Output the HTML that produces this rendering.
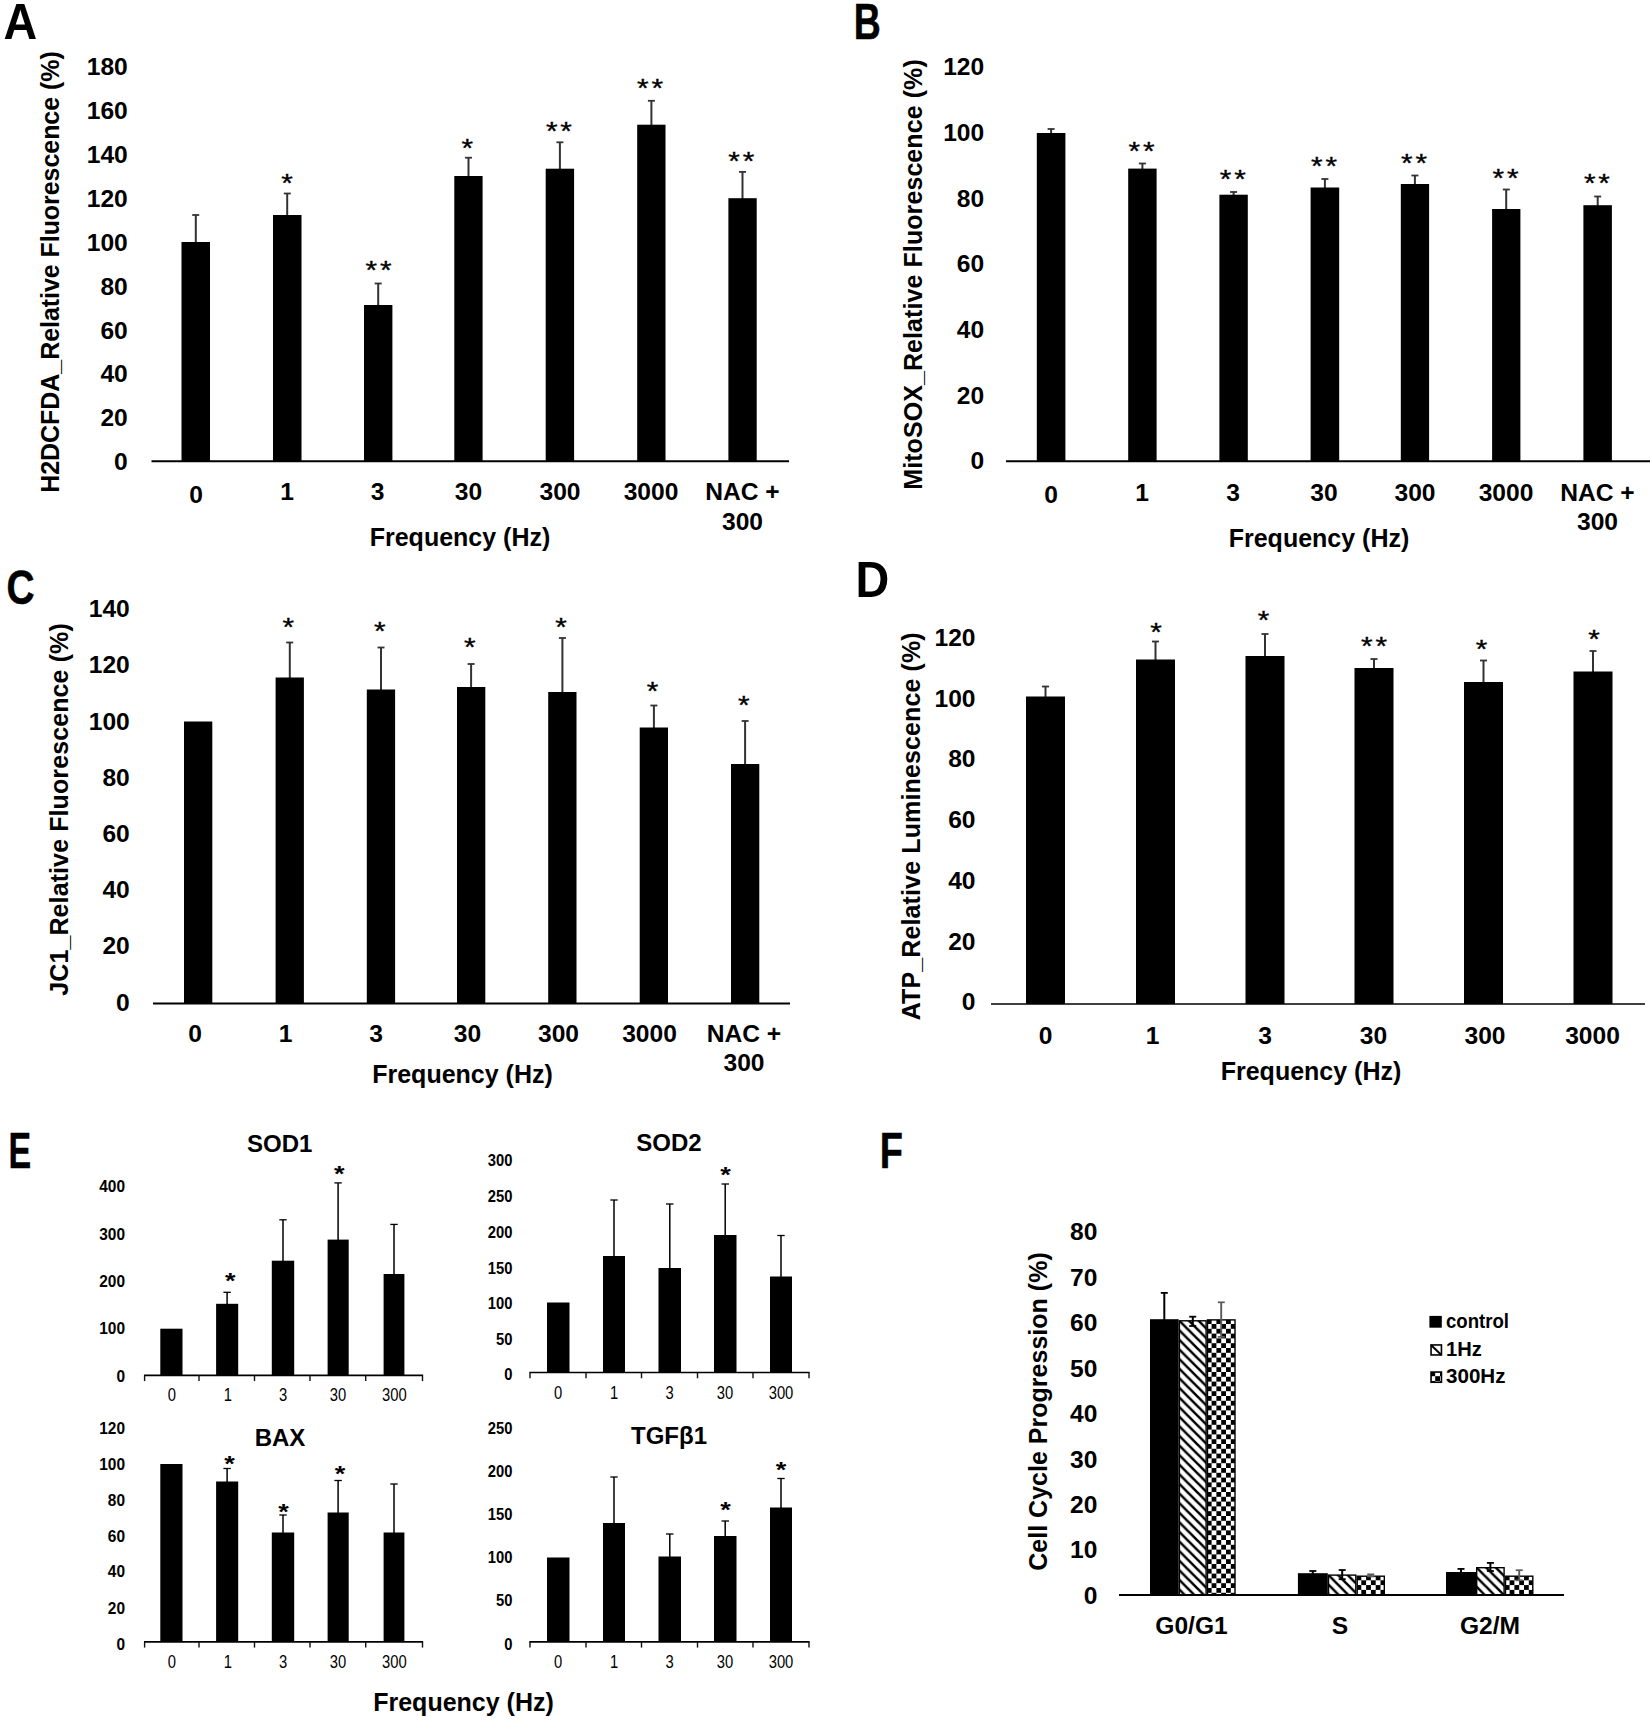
<!DOCTYPE html>
<html><head><meta charset="utf-8"><title>Figure</title>
<style>
html,body{margin:0;padding:0;background:#fff;}
svg{display:block;font-family:"Liberation Sans", sans-serif;fill:#000;}
</style></head><body>
<svg width="1650" height="1720" viewBox="0 0 1650 1720">
<defs>
<pattern id="hatch" width="9.6" height="9.6" patternUnits="userSpaceOnUse">
<rect width="9.6" height="9.6" fill="#fff"/><path d="M-2,-2 L12,12 M-2,-11.6 L12,2.4 M-2,7.6 L12,21.6" stroke="#000" stroke-width="2.5"/></pattern>
<pattern id="check" width="9.6" height="9.6" patternUnits="userSpaceOnUse">
<rect width="9.6" height="9.6" fill="#fff"/><rect width="4.8" height="4.8" fill="#000"/><rect x="4.8" y="4.8" width="4.8" height="4.8" fill="#000"/></pattern>
<pattern id="hatchs" width="8" height="8" patternUnits="userSpaceOnUse" patternTransform="translate(1430 1345)">
<rect width="8" height="8" fill="#fff"/><path d="M-2,-2 L10,10 M-2,-10 L10,2 M-2,6 L10,18" stroke="#000" stroke-width="2.3"/></pattern>
<pattern id="checks" width="10" height="10" patternUnits="userSpaceOnUse" patternTransform="translate(1430.5 1372)">
<rect width="10" height="10" fill="#fff"/><rect x="5" width="5" height="5" fill="#000"/><rect y="5" width="5" height="5" fill="#000"/></pattern>
</defs>
<rect width="1650" height="1720" fill="#fff"/>
<text transform="translate(3.43 39.0) scale(0.934 1)" font-size="50.0" font-weight="bold">A</text>
<line x1="151.5" y1="461.3" x2="789.0" y2="461.3" stroke="#000" stroke-width="2"/>
<text x="127.8" y="74.5" font-size="24.6" font-weight="bold" text-anchor="end">180</text>
<text x="127.8" y="118.8" font-size="24.6" font-weight="bold" text-anchor="end">160</text>
<text x="127.8" y="162.8" font-size="24.6" font-weight="bold" text-anchor="end">140</text>
<text x="127.8" y="206.7" font-size="24.6" font-weight="bold" text-anchor="end">120</text>
<text x="127.8" y="250.5" font-size="24.6" font-weight="bold" text-anchor="end">100</text>
<text x="127.8" y="294.5" font-size="24.6" font-weight="bold" text-anchor="end">80</text>
<text x="127.8" y="338.5" font-size="24.6" font-weight="bold" text-anchor="end">60</text>
<text x="127.8" y="382.0" font-size="24.6" font-weight="bold" text-anchor="end">40</text>
<text x="127.8" y="426.0" font-size="24.6" font-weight="bold" text-anchor="end">20</text>
<text x="127.8" y="469.5" font-size="24.6" font-weight="bold" text-anchor="end">0</text>
<line x1="195.8" y1="215.0" x2="195.8" y2="243.0" stroke="#333" stroke-width="2"/>
<line x1="192.2" y1="215.0" x2="199.2" y2="215.0" stroke="#333" stroke-width="1.8"/>
<rect x="181.5" y="242.0" width="28.5" height="219.0" fill="#000"/>
<line x1="287.2" y1="193.5" x2="287.2" y2="216.0" stroke="#333" stroke-width="2"/>
<line x1="283.8" y1="193.5" x2="290.8" y2="193.5" stroke="#333" stroke-width="1.8"/>
<rect x="273.0" y="215.0" width="28.5" height="246.0" fill="#000"/>
<text transform="translate(287.1 179.4) scale(1.06 0.9)" y="14.4" font-size="28" font-weight="normal" text-anchor="middle" stroke="#000" stroke-width="0.4">*</text>
<line x1="378.2" y1="283.5" x2="378.2" y2="306.0" stroke="#333" stroke-width="2"/>
<line x1="374.7" y1="283.5" x2="381.7" y2="283.5" stroke="#333" stroke-width="1.8"/>
<rect x="364.0" y="305.0" width="28.4" height="156.0" fill="#000"/>
<text transform="translate(371.3 266.5) scale(1.06 0.9)" y="14.4" font-size="28" font-weight="normal" text-anchor="middle" stroke="#000" stroke-width="0.4">*</text>
<text transform="translate(385.7 266.5) scale(1.06 0.9)" y="14.4" font-size="28" font-weight="normal" text-anchor="middle" stroke="#000" stroke-width="0.4">*</text>
<line x1="468.5" y1="157.7" x2="468.5" y2="177.0" stroke="#333" stroke-width="2"/>
<line x1="465.0" y1="157.7" x2="472.0" y2="157.7" stroke="#333" stroke-width="1.8"/>
<rect x="454.3" y="176.0" width="28.3" height="285.0" fill="#000"/>
<text transform="translate(467.2 144.1) scale(1.06 0.9)" y="14.4" font-size="28" font-weight="normal" text-anchor="middle" stroke="#000" stroke-width="0.4">*</text>
<line x1="559.9" y1="142.3" x2="559.9" y2="169.7" stroke="#333" stroke-width="2"/>
<line x1="556.4" y1="142.3" x2="563.4" y2="142.3" stroke="#333" stroke-width="1.8"/>
<rect x="545.7" y="168.7" width="28.4" height="292.3" fill="#000"/>
<text transform="translate(551.7 127.0) scale(1.06 0.9)" y="14.4" font-size="28" font-weight="normal" text-anchor="middle" stroke="#000" stroke-width="0.4">*</text>
<text transform="translate(566.1 127.0) scale(1.06 0.9)" y="14.4" font-size="28" font-weight="normal" text-anchor="middle" stroke="#000" stroke-width="0.4">*</text>
<line x1="651.4" y1="100.8" x2="651.4" y2="125.7" stroke="#333" stroke-width="2"/>
<line x1="647.9" y1="100.8" x2="654.9" y2="100.8" stroke="#333" stroke-width="1.8"/>
<rect x="637.2" y="124.7" width="28.3" height="336.3" fill="#000"/>
<text transform="translate(642.9 83.9) scale(1.06 0.9)" y="14.4" font-size="28" font-weight="normal" text-anchor="middle" stroke="#000" stroke-width="0.4">*</text>
<text transform="translate(657.3 83.9) scale(1.06 0.9)" y="14.4" font-size="28" font-weight="normal" text-anchor="middle" stroke="#000" stroke-width="0.4">*</text>
<line x1="742.5" y1="171.9" x2="742.5" y2="199.2" stroke="#333" stroke-width="2"/>
<line x1="739.0" y1="171.9" x2="746.0" y2="171.9" stroke="#333" stroke-width="1.8"/>
<rect x="728.4" y="198.2" width="28.3" height="262.8" fill="#000"/>
<text transform="translate(734.1 156.8) scale(1.06 0.9)" y="14.4" font-size="28" font-weight="normal" text-anchor="middle" stroke="#000" stroke-width="0.4">*</text>
<text transform="translate(748.5 156.8) scale(1.06 0.9)" y="14.4" font-size="28" font-weight="normal" text-anchor="middle" stroke="#000" stroke-width="0.4">*</text>
<text x="196.0" y="502.6" font-size="24.6" font-weight="bold" text-anchor="middle">0</text>
<text x="287.0" y="500.1" font-size="24.6" font-weight="bold" text-anchor="middle">1</text>
<text x="377.5" y="500.1" font-size="24.6" font-weight="bold" text-anchor="middle">3</text>
<text x="468.5" y="500.1" font-size="24.6" font-weight="bold" text-anchor="middle">30</text>
<text x="560.0" y="500.1" font-size="24.6" font-weight="bold" text-anchor="middle">300</text>
<text x="651.0" y="500.1" font-size="24.6" font-weight="bold" text-anchor="middle">3000</text>
<text x="742.5" y="500.1" font-size="24.6" font-weight="bold" text-anchor="middle">NAC +</text>
<text x="742.5" y="530.1" font-size="24.6" font-weight="bold" text-anchor="middle">300</text>
<text x="460.0" y="545.8" font-size="25" font-weight="bold" text-anchor="middle">Frequency (Hz)</text>
<text transform="translate(59.4 272.0) rotate(-90)" font-size="25" font-weight="bold" text-anchor="middle" textLength="441.5" lengthAdjust="spacing">H2DCFDA_Relative Fluorescence (%)</text>
<text transform="translate(853.69 39.0) scale(0.749 1)" font-size="50.0" font-weight="bold" stroke="#000" stroke-width="0.5">B</text>
<line x1="1006.0" y1="461.3" x2="1650.0" y2="461.3" stroke="#000" stroke-width="2"/>
<text x="984.2" y="74.7" font-size="24.6" font-weight="bold" text-anchor="end">120</text>
<text x="984.2" y="141.2" font-size="24.6" font-weight="bold" text-anchor="end">100</text>
<text x="984.2" y="206.7" font-size="24.6" font-weight="bold" text-anchor="end">80</text>
<text x="984.2" y="272.2" font-size="24.6" font-weight="bold" text-anchor="end">60</text>
<text x="984.2" y="338.2" font-size="24.6" font-weight="bold" text-anchor="end">40</text>
<text x="984.2" y="404.2" font-size="24.6" font-weight="bold" text-anchor="end">20</text>
<text x="984.2" y="469.2" font-size="24.6" font-weight="bold" text-anchor="end">0</text>
<line x1="1051.1" y1="129.0" x2="1051.1" y2="134.0" stroke="#333" stroke-width="2"/>
<line x1="1047.6" y1="129.0" x2="1054.6" y2="129.0" stroke="#333" stroke-width="1.8"/>
<rect x="1036.8" y="133.0" width="28.6" height="328.0" fill="#000"/>
<line x1="1142.4" y1="163.5" x2="1142.4" y2="169.6" stroke="#333" stroke-width="2"/>
<line x1="1138.9" y1="163.5" x2="1145.9" y2="163.5" stroke="#333" stroke-width="1.8"/>
<rect x="1128.2" y="168.6" width="28.4" height="292.4" fill="#000"/>
<text transform="translate(1134.4 147.1) scale(1.06 0.9)" y="14.4" font-size="28" font-weight="normal" text-anchor="middle" stroke="#000" stroke-width="0.4">*</text>
<text transform="translate(1148.8 147.1) scale(1.06 0.9)" y="14.4" font-size="28" font-weight="normal" text-anchor="middle" stroke="#000" stroke-width="0.4">*</text>
<line x1="1233.6" y1="192.0" x2="1233.6" y2="195.7" stroke="#333" stroke-width="2"/>
<line x1="1230.1" y1="192.0" x2="1237.1" y2="192.0" stroke="#333" stroke-width="1.8"/>
<rect x="1219.4" y="194.7" width="28.4" height="266.3" fill="#000"/>
<text transform="translate(1225.6 174.6) scale(1.06 0.9)" y="14.4" font-size="28" font-weight="normal" text-anchor="middle" stroke="#000" stroke-width="0.4">*</text>
<text transform="translate(1240.0 174.6) scale(1.06 0.9)" y="14.4" font-size="28" font-weight="normal" text-anchor="middle" stroke="#000" stroke-width="0.4">*</text>
<line x1="1324.9" y1="179.0" x2="1324.9" y2="188.5" stroke="#333" stroke-width="2"/>
<line x1="1321.4" y1="179.0" x2="1328.4" y2="179.0" stroke="#333" stroke-width="1.8"/>
<rect x="1310.6" y="187.5" width="28.6" height="273.5" fill="#000"/>
<text transform="translate(1316.9 161.6) scale(1.06 0.9)" y="14.4" font-size="28" font-weight="normal" text-anchor="middle" stroke="#000" stroke-width="0.4">*</text>
<text transform="translate(1331.3 161.6) scale(1.06 0.9)" y="14.4" font-size="28" font-weight="normal" text-anchor="middle" stroke="#000" stroke-width="0.4">*</text>
<line x1="1414.9" y1="175.5" x2="1414.9" y2="185.0" stroke="#333" stroke-width="2"/>
<line x1="1411.4" y1="175.5" x2="1418.4" y2="175.5" stroke="#333" stroke-width="1.8"/>
<rect x="1400.8" y="184.0" width="28.3" height="277.0" fill="#000"/>
<text transform="translate(1406.9 159.1) scale(1.06 0.9)" y="14.4" font-size="28" font-weight="normal" text-anchor="middle" stroke="#000" stroke-width="0.4">*</text>
<text transform="translate(1421.3 159.1) scale(1.06 0.9)" y="14.4" font-size="28" font-weight="normal" text-anchor="middle" stroke="#000" stroke-width="0.4">*</text>
<line x1="1506.2" y1="189.5" x2="1506.2" y2="210.0" stroke="#333" stroke-width="2"/>
<line x1="1502.8" y1="189.5" x2="1509.8" y2="189.5" stroke="#333" stroke-width="1.8"/>
<rect x="1492.1" y="209.0" width="28.3" height="252.0" fill="#000"/>
<text transform="translate(1498.2 173.6) scale(1.06 0.9)" y="14.4" font-size="28" font-weight="normal" text-anchor="middle" stroke="#000" stroke-width="0.4">*</text>
<text transform="translate(1512.7 173.6) scale(1.06 0.9)" y="14.4" font-size="28" font-weight="normal" text-anchor="middle" stroke="#000" stroke-width="0.4">*</text>
<line x1="1597.7" y1="196.5" x2="1597.7" y2="206.2" stroke="#333" stroke-width="2"/>
<line x1="1594.2" y1="196.5" x2="1601.2" y2="196.5" stroke="#333" stroke-width="1.8"/>
<rect x="1583.4" y="205.2" width="28.5" height="255.8" fill="#000"/>
<text transform="translate(1589.7 178.6) scale(1.06 0.9)" y="14.4" font-size="28" font-weight="normal" text-anchor="middle" stroke="#000" stroke-width="0.4">*</text>
<text transform="translate(1604.1 178.6) scale(1.06 0.9)" y="14.4" font-size="28" font-weight="normal" text-anchor="middle" stroke="#000" stroke-width="0.4">*</text>
<text x="1051.0" y="502.6" font-size="24.6" font-weight="bold" text-anchor="middle">0</text>
<text x="1142.0" y="501.1" font-size="24.6" font-weight="bold" text-anchor="middle">1</text>
<text x="1233.0" y="501.1" font-size="24.6" font-weight="bold" text-anchor="middle">3</text>
<text x="1324.0" y="501.1" font-size="24.6" font-weight="bold" text-anchor="middle">30</text>
<text x="1415.0" y="501.1" font-size="24.6" font-weight="bold" text-anchor="middle">300</text>
<text x="1506.0" y="501.1" font-size="24.6" font-weight="bold" text-anchor="middle">3000</text>
<text x="1597.5" y="501.1" font-size="24.6" font-weight="bold" text-anchor="middle">NAC +</text>
<text x="1597.5" y="530.1" font-size="24.6" font-weight="bold" text-anchor="middle">300</text>
<text x="1319.0" y="546.6" font-size="25" font-weight="bold" text-anchor="middle">Frequency (Hz)</text>
<text transform="translate(922.4 274.5) rotate(-90)" font-size="25" font-weight="bold" text-anchor="middle" textLength="430.5" lengthAdjust="spacing">MitoSOX_Relative Fluorescence (%)</text>
<text transform="translate(6.51 604.4) scale(0.795 1)" font-size="48.9" font-weight="bold" stroke="#000" stroke-width="0.5">C</text>
<line x1="153.0" y1="1003.5" x2="790.0" y2="1003.5" stroke="#000" stroke-width="2"/>
<text x="129.8" y="617.3" font-size="24.6" font-weight="bold" text-anchor="end">140</text>
<text x="129.8" y="673.3" font-size="24.6" font-weight="bold" text-anchor="end">120</text>
<text x="129.8" y="729.8" font-size="24.6" font-weight="bold" text-anchor="end">100</text>
<text x="129.8" y="785.8" font-size="24.6" font-weight="bold" text-anchor="end">80</text>
<text x="129.8" y="841.8" font-size="24.6" font-weight="bold" text-anchor="end">60</text>
<text x="129.8" y="898.3" font-size="24.6" font-weight="bold" text-anchor="end">40</text>
<text x="129.8" y="954.3" font-size="24.6" font-weight="bold" text-anchor="end">20</text>
<text x="129.8" y="1010.8" font-size="24.6" font-weight="bold" text-anchor="end">0</text>
<rect x="184.0" y="721.5" width="28.3" height="282.0" fill="#000"/>
<line x1="289.8" y1="642.5" x2="289.8" y2="678.5" stroke="#333" stroke-width="2"/>
<line x1="286.2" y1="642.5" x2="293.2" y2="642.5" stroke="#333" stroke-width="1.8"/>
<rect x="275.6" y="677.5" width="28.3" height="326.0" fill="#000"/>
<text transform="translate(288.4 623.2) scale(1.06 0.9)" y="14.4" font-size="28" font-weight="normal" text-anchor="middle" stroke="#000" stroke-width="0.4">*</text>
<line x1="381.0" y1="647.5" x2="381.0" y2="690.5" stroke="#333" stroke-width="2"/>
<line x1="377.5" y1="647.5" x2="384.5" y2="647.5" stroke="#333" stroke-width="1.8"/>
<rect x="366.8" y="689.5" width="28.3" height="314.0" fill="#000"/>
<text transform="translate(379.7 626.7) scale(1.06 0.9)" y="14.4" font-size="28" font-weight="normal" text-anchor="middle" stroke="#000" stroke-width="0.4">*</text>
<line x1="471.1" y1="664.0" x2="471.1" y2="688.0" stroke="#333" stroke-width="2"/>
<line x1="467.6" y1="664.0" x2="474.6" y2="664.0" stroke="#333" stroke-width="1.8"/>
<rect x="457.0" y="687.0" width="28.3" height="316.5" fill="#000"/>
<text transform="translate(469.8 643.2) scale(1.06 0.9)" y="14.4" font-size="28" font-weight="normal" text-anchor="middle" stroke="#000" stroke-width="0.4">*</text>
<line x1="562.4" y1="638.0" x2="562.4" y2="693.0" stroke="#333" stroke-width="2"/>
<line x1="558.9" y1="638.0" x2="565.9" y2="638.0" stroke="#333" stroke-width="1.8"/>
<rect x="548.2" y="692.0" width="28.3" height="311.5" fill="#000"/>
<text transform="translate(561.1 622.7) scale(1.06 0.9)" y="14.4" font-size="28" font-weight="normal" text-anchor="middle" stroke="#000" stroke-width="0.4">*</text>
<line x1="653.9" y1="705.5" x2="653.9" y2="728.5" stroke="#333" stroke-width="2"/>
<line x1="650.4" y1="705.5" x2="657.4" y2="705.5" stroke="#333" stroke-width="1.8"/>
<rect x="639.7" y="727.5" width="28.3" height="276.0" fill="#000"/>
<text transform="translate(652.6 687.2) scale(1.06 0.9)" y="14.4" font-size="28" font-weight="normal" text-anchor="middle" stroke="#000" stroke-width="0.4">*</text>
<line x1="745.1" y1="721.0" x2="745.1" y2="765.0" stroke="#333" stroke-width="2"/>
<line x1="741.6" y1="721.0" x2="748.6" y2="721.0" stroke="#333" stroke-width="1.8"/>
<rect x="731.0" y="764.0" width="28.3" height="239.5" fill="#000"/>
<text transform="translate(743.9 701.2) scale(1.06 0.9)" y="14.4" font-size="28" font-weight="normal" text-anchor="middle" stroke="#000" stroke-width="0.4">*</text>
<text x="195.0" y="1041.6" font-size="24.6" font-weight="bold" text-anchor="middle">0</text>
<text x="285.5" y="1041.6" font-size="24.6" font-weight="bold" text-anchor="middle">1</text>
<text x="376.0" y="1041.6" font-size="24.6" font-weight="bold" text-anchor="middle">3</text>
<text x="467.5" y="1041.6" font-size="24.6" font-weight="bold" text-anchor="middle">30</text>
<text x="558.5" y="1041.6" font-size="24.6" font-weight="bold" text-anchor="middle">300</text>
<text x="649.5" y="1041.6" font-size="24.6" font-weight="bold" text-anchor="middle">3000</text>
<text x="744.0" y="1041.6" font-size="24.6" font-weight="bold" text-anchor="middle">NAC +</text>
<text x="744.0" y="1071.1" font-size="24.6" font-weight="bold" text-anchor="middle">300</text>
<text x="462.5" y="1082.8" font-size="25" font-weight="bold" text-anchor="middle">Frequency (Hz)</text>
<text transform="translate(68.3 809.5) rotate(-90)" font-size="25" font-weight="bold" text-anchor="middle" textLength="372.5" lengthAdjust="spacing">JC1_Relative Fluorescence (%)</text>
<text transform="translate(855.57 596.7) scale(0.927 1)" font-size="50.4" font-weight="bold">D</text>
<line x1="991.0" y1="1004.0" x2="1645.0" y2="1004.0" stroke="#000" stroke-width="1.3"/>
<text x="975.5" y="646.2" font-size="24.6" font-weight="bold" text-anchor="end">120</text>
<text x="975.5" y="706.7" font-size="24.6" font-weight="bold" text-anchor="end">100</text>
<text x="975.5" y="767.2" font-size="24.6" font-weight="bold" text-anchor="end">80</text>
<text x="975.5" y="828.2" font-size="24.6" font-weight="bold" text-anchor="end">60</text>
<text x="975.5" y="888.7" font-size="24.6" font-weight="bold" text-anchor="end">40</text>
<text x="975.5" y="949.7" font-size="24.6" font-weight="bold" text-anchor="end">20</text>
<text x="975.5" y="1010.2" font-size="24.6" font-weight="bold" text-anchor="end">0</text>
<line x1="1045.5" y1="686.5" x2="1045.5" y2="697.5" stroke="#333" stroke-width="2"/>
<line x1="1042.0" y1="686.5" x2="1049.0" y2="686.5" stroke="#333" stroke-width="1.8"/>
<rect x="1026.0" y="696.5" width="39.0" height="307.5" fill="#000"/>
<line x1="1155.5" y1="641.5" x2="1155.5" y2="660.5" stroke="#333" stroke-width="2"/>
<line x1="1152.0" y1="641.5" x2="1159.0" y2="641.5" stroke="#333" stroke-width="1.8"/>
<rect x="1136.0" y="659.5" width="39.0" height="344.5" fill="#000"/>
<text transform="translate(1156.0 628.0) scale(1.06 0.9)" y="14.4" font-size="28" font-weight="normal" text-anchor="middle" stroke="#000" stroke-width="0.4">*</text>
<line x1="1265.0" y1="634.0" x2="1265.0" y2="657.0" stroke="#333" stroke-width="2"/>
<line x1="1261.5" y1="634.0" x2="1268.5" y2="634.0" stroke="#333" stroke-width="1.8"/>
<rect x="1245.5" y="656.0" width="39.0" height="348.0" fill="#000"/>
<text transform="translate(1263.5 616.0) scale(1.06 0.9)" y="14.4" font-size="28" font-weight="normal" text-anchor="middle" stroke="#000" stroke-width="0.4">*</text>
<line x1="1374.0" y1="659.0" x2="1374.0" y2="669.0" stroke="#333" stroke-width="2"/>
<line x1="1370.5" y1="659.0" x2="1377.5" y2="659.0" stroke="#333" stroke-width="1.8"/>
<rect x="1354.5" y="668.0" width="39.0" height="336.0" fill="#000"/>
<text transform="translate(1366.8 642.5) scale(1.06 0.9)" y="14.4" font-size="28" font-weight="normal" text-anchor="middle" stroke="#000" stroke-width="0.4">*</text>
<text transform="translate(1381.2 642.5) scale(1.06 0.9)" y="14.4" font-size="28" font-weight="normal" text-anchor="middle" stroke="#000" stroke-width="0.4">*</text>
<line x1="1483.5" y1="660.5" x2="1483.5" y2="683.0" stroke="#333" stroke-width="2"/>
<line x1="1480.0" y1="660.5" x2="1487.0" y2="660.5" stroke="#333" stroke-width="1.8"/>
<rect x="1464.0" y="682.0" width="39.0" height="322.0" fill="#000"/>
<text transform="translate(1481.5 645.5) scale(1.06 0.9)" y="14.4" font-size="28" font-weight="normal" text-anchor="middle" stroke="#000" stroke-width="0.4">*</text>
<line x1="1593.0" y1="651.0" x2="1593.0" y2="672.5" stroke="#333" stroke-width="2"/>
<line x1="1589.5" y1="651.0" x2="1596.5" y2="651.0" stroke="#333" stroke-width="1.8"/>
<rect x="1573.5" y="671.5" width="39.0" height="332.5" fill="#000"/>
<text transform="translate(1594.0 635.5) scale(1.06 0.9)" y="14.4" font-size="28" font-weight="normal" text-anchor="middle" stroke="#000" stroke-width="0.4">*</text>
<text x="1045.5" y="1043.6" font-size="24.6" font-weight="bold" text-anchor="middle">0</text>
<text x="1152.5" y="1043.6" font-size="24.6" font-weight="bold" text-anchor="middle">1</text>
<text x="1265.0" y="1043.6" font-size="24.6" font-weight="bold" text-anchor="middle">3</text>
<text x="1373.5" y="1043.6" font-size="24.6" font-weight="bold" text-anchor="middle">30</text>
<text x="1485.0" y="1043.6" font-size="24.6" font-weight="bold" text-anchor="middle">300</text>
<text x="1592.5" y="1043.6" font-size="24.6" font-weight="bold" text-anchor="middle">3000</text>
<text x="1311.0" y="1079.6" font-size="25" font-weight="bold" text-anchor="middle">Frequency (Hz)</text>
<text transform="translate(919.8 826.3) rotate(-90)" font-size="25" font-weight="bold" text-anchor="middle" textLength="388" lengthAdjust="spacing">ATP_Relative Luminescence (%)</text>
<text transform="translate(8.53 1168.2) scale(0.677 1)" font-size="50.1" font-weight="bold" stroke="#000" stroke-width="0.5">E</text>
<text x="279.7" y="1152.3" font-size="24" font-weight="bold" text-anchor="middle">SOD1</text>
<line x1="144.0" y1="1375.3" x2="423.1" y2="1375.3" stroke="#000" stroke-width="1.7"/>
<line x1="144.6" y1="1375.3" x2="144.6" y2="1381.1" stroke="#111" stroke-width="1.4"/>
<line x1="199.0" y1="1375.3" x2="199.0" y2="1381.1" stroke="#111" stroke-width="1.4"/>
<line x1="254.5" y1="1375.3" x2="254.5" y2="1381.1" stroke="#111" stroke-width="1.4"/>
<line x1="310.0" y1="1375.3" x2="310.0" y2="1381.1" stroke="#111" stroke-width="1.4"/>
<line x1="365.7" y1="1375.3" x2="365.7" y2="1381.1" stroke="#111" stroke-width="1.4"/>
<line x1="422.5" y1="1375.3" x2="422.5" y2="1381.1" stroke="#111" stroke-width="1.4"/>
<text transform="translate(125.0 1192.1) scale(0.92 1)" font-size="16.8" font-weight="bold" text-anchor="end">400</text>
<text transform="translate(125.0 1239.7) scale(0.92 1)" font-size="16.8" font-weight="bold" text-anchor="end">300</text>
<text transform="translate(125.0 1287.0) scale(0.92 1)" font-size="16.8" font-weight="bold" text-anchor="end">200</text>
<text transform="translate(125.0 1334.4) scale(0.92 1)" font-size="16.8" font-weight="bold" text-anchor="end">100</text>
<text transform="translate(125.0 1381.5) scale(0.92 1)" font-size="16.8" font-weight="bold" text-anchor="end">0</text>
<rect x="160.3" y="1328.7" width="22.2" height="46.6" fill="#000"/>
<line x1="227.1" y1="1292.3" x2="227.1" y2="1304.8" stroke="#000" stroke-width="1.5"/>
<line x1="223.4" y1="1292.3" x2="230.8" y2="1292.3" stroke="#000" stroke-width="1.3"/>
<rect x="216.1" y="1303.8" width="22.1" height="71.5" fill="#000"/>
<text transform="translate(230.3 1276.9) scale(1.04 0.85)" y="13.1" font-size="26" font-weight="bold" text-anchor="middle">*</text>
<line x1="283.0" y1="1219.8" x2="283.0" y2="1261.7" stroke="#000" stroke-width="1.5"/>
<line x1="279.3" y1="1219.8" x2="286.7" y2="1219.8" stroke="#000" stroke-width="1.3"/>
<rect x="271.8" y="1260.7" width="22.4" height="114.6" fill="#000"/>
<line x1="338.1" y1="1182.9" x2="338.1" y2="1240.6" stroke="#000" stroke-width="1.5"/>
<line x1="334.4" y1="1182.9" x2="341.8" y2="1182.9" stroke="#000" stroke-width="1.3"/>
<rect x="327.6" y="1239.6" width="21.1" height="135.7" fill="#000"/>
<text transform="translate(339.3 1170.3) scale(1.04 0.85)" y="13.1" font-size="26" font-weight="bold" text-anchor="middle">*</text>
<line x1="394.0" y1="1224.4" x2="394.0" y2="1275.0" stroke="#000" stroke-width="1.5"/>
<line x1="390.3" y1="1224.4" x2="397.7" y2="1224.4" stroke="#000" stroke-width="1.3"/>
<rect x="383.6" y="1274.0" width="20.8" height="101.3" fill="#000"/>
<text transform="translate(171.8 1401.0) scale(0.845 1)" font-size="17.5" font-weight="normal" text-anchor="middle">0</text>
<text transform="translate(227.8 1401.0) scale(0.845 1)" font-size="17.5" font-weight="normal" text-anchor="middle">1</text>
<text transform="translate(283.0 1401.0) scale(0.845 1)" font-size="17.5" font-weight="normal" text-anchor="middle">3</text>
<text transform="translate(338.0 1401.0) scale(0.845 1)" font-size="17.5" font-weight="normal" text-anchor="middle">30</text>
<text transform="translate(394.3 1401.0) scale(0.845 1)" font-size="17.5" font-weight="normal" text-anchor="middle">300</text>
<text x="669.0" y="1151.3" font-size="24" font-weight="bold" text-anchor="middle">SOD2</text>
<line x1="529.4" y1="1372.5" x2="809.6" y2="1372.5" stroke="#000" stroke-width="1.7"/>
<line x1="530.0" y1="1372.5" x2="530.0" y2="1378.3" stroke="#111" stroke-width="1.4"/>
<line x1="586.0" y1="1372.5" x2="586.0" y2="1378.3" stroke="#111" stroke-width="1.4"/>
<line x1="641.5" y1="1372.5" x2="641.5" y2="1378.3" stroke="#111" stroke-width="1.4"/>
<line x1="697.5" y1="1372.5" x2="697.5" y2="1378.3" stroke="#111" stroke-width="1.4"/>
<line x1="753.0" y1="1372.5" x2="753.0" y2="1378.3" stroke="#111" stroke-width="1.4"/>
<line x1="809.0" y1="1372.5" x2="809.0" y2="1378.3" stroke="#111" stroke-width="1.4"/>
<text transform="translate(512.5 1166.2) scale(0.88 1)" font-size="16.8" font-weight="bold" text-anchor="end">300</text>
<text transform="translate(512.5 1202.2) scale(0.88 1)" font-size="16.8" font-weight="bold" text-anchor="end">250</text>
<text transform="translate(512.5 1237.7) scale(0.88 1)" font-size="16.8" font-weight="bold" text-anchor="end">200</text>
<text transform="translate(512.5 1273.7) scale(0.88 1)" font-size="16.8" font-weight="bold" text-anchor="end">150</text>
<text transform="translate(512.5 1308.7) scale(0.88 1)" font-size="16.8" font-weight="bold" text-anchor="end">100</text>
<text transform="translate(512.5 1344.7) scale(0.88 1)" font-size="16.8" font-weight="bold" text-anchor="end">50</text>
<text transform="translate(512.5 1379.7) scale(0.88 1)" font-size="16.8" font-weight="bold" text-anchor="end">0</text>
<rect x="547.0" y="1302.5" width="22.5" height="70.0" fill="#000"/>
<line x1="614.0" y1="1200.0" x2="614.0" y2="1257.0" stroke="#000" stroke-width="1.5"/>
<line x1="610.3" y1="1200.0" x2="617.7" y2="1200.0" stroke="#000" stroke-width="1.3"/>
<rect x="603.0" y="1256.0" width="22.0" height="116.5" fill="#000"/>
<line x1="669.8" y1="1204.0" x2="669.8" y2="1269.0" stroke="#000" stroke-width="1.5"/>
<line x1="666.0" y1="1204.0" x2="673.5" y2="1204.0" stroke="#000" stroke-width="1.3"/>
<rect x="658.5" y="1268.0" width="22.5" height="104.5" fill="#000"/>
<line x1="725.2" y1="1184.0" x2="725.2" y2="1236.0" stroke="#000" stroke-width="1.5"/>
<line x1="721.5" y1="1184.0" x2="729.0" y2="1184.0" stroke="#000" stroke-width="1.3"/>
<rect x="714.0" y="1235.0" width="22.5" height="137.5" fill="#000"/>
<text transform="translate(725.5 1171.1) scale(1.04 0.85)" y="13.1" font-size="26" font-weight="bold" text-anchor="middle">*</text>
<line x1="781.0" y1="1235.5" x2="781.0" y2="1277.5" stroke="#000" stroke-width="1.5"/>
<line x1="777.3" y1="1235.5" x2="784.7" y2="1235.5" stroke="#000" stroke-width="1.3"/>
<rect x="770.0" y="1276.5" width="22.0" height="96.0" fill="#000"/>
<text transform="translate(558.0 1399.1) scale(0.845 1)" font-size="17.5" font-weight="normal" text-anchor="middle">0</text>
<text transform="translate(614.0 1399.1) scale(0.845 1)" font-size="17.5" font-weight="normal" text-anchor="middle">1</text>
<text transform="translate(669.5 1399.1) scale(0.845 1)" font-size="17.5" font-weight="normal" text-anchor="middle">3</text>
<text transform="translate(725.0 1399.1) scale(0.845 1)" font-size="17.5" font-weight="normal" text-anchor="middle">30</text>
<text transform="translate(781.0 1399.1) scale(0.845 1)" font-size="17.5" font-weight="normal" text-anchor="middle">300</text>
<text x="280.0" y="1445.8" font-size="24" font-weight="bold" text-anchor="middle">BAX</text>
<line x1="144.0" y1="1641.8" x2="423.1" y2="1641.8" stroke="#000" stroke-width="1.7"/>
<line x1="144.6" y1="1641.8" x2="144.6" y2="1647.6" stroke="#111" stroke-width="1.4"/>
<line x1="199.0" y1="1641.8" x2="199.0" y2="1647.6" stroke="#111" stroke-width="1.4"/>
<line x1="254.5" y1="1641.8" x2="254.5" y2="1647.6" stroke="#111" stroke-width="1.4"/>
<line x1="310.0" y1="1641.8" x2="310.0" y2="1647.6" stroke="#111" stroke-width="1.4"/>
<line x1="365.7" y1="1641.8" x2="365.7" y2="1647.6" stroke="#111" stroke-width="1.4"/>
<line x1="422.5" y1="1641.8" x2="422.5" y2="1647.6" stroke="#111" stroke-width="1.4"/>
<text transform="translate(125.0 1434.3) scale(0.92 1)" font-size="16.8" font-weight="bold" text-anchor="end">120</text>
<text transform="translate(125.0 1470.3) scale(0.92 1)" font-size="16.8" font-weight="bold" text-anchor="end">100</text>
<text transform="translate(125.0 1505.8) scale(0.92 1)" font-size="16.8" font-weight="bold" text-anchor="end">80</text>
<text transform="translate(125.0 1541.8) scale(0.92 1)" font-size="16.8" font-weight="bold" text-anchor="end">60</text>
<text transform="translate(125.0 1577.3) scale(0.92 1)" font-size="16.8" font-weight="bold" text-anchor="end">40</text>
<text transform="translate(125.0 1613.8) scale(0.92 1)" font-size="16.8" font-weight="bold" text-anchor="end">20</text>
<text transform="translate(125.0 1649.8) scale(0.92 1)" font-size="16.8" font-weight="bold" text-anchor="end">0</text>
<rect x="160.3" y="1464.0" width="22.2" height="177.8" fill="#000"/>
<line x1="227.1" y1="1468.5" x2="227.1" y2="1482.5" stroke="#000" stroke-width="1.5"/>
<line x1="223.4" y1="1468.5" x2="230.8" y2="1468.5" stroke="#000" stroke-width="1.3"/>
<rect x="216.1" y="1481.5" width="22.1" height="160.3" fill="#000"/>
<text transform="translate(229.5 1460.1) scale(1.04 0.85)" y="13.1" font-size="26" font-weight="bold" text-anchor="middle">*</text>
<line x1="283.0" y1="1515.0" x2="283.0" y2="1533.5" stroke="#000" stroke-width="1.5"/>
<line x1="279.3" y1="1515.0" x2="286.7" y2="1515.0" stroke="#000" stroke-width="1.3"/>
<rect x="271.8" y="1532.5" width="22.4" height="109.3" fill="#000"/>
<text transform="translate(283.5 1507.6) scale(1.04 0.85)" y="13.1" font-size="26" font-weight="bold" text-anchor="middle">*</text>
<line x1="338.1" y1="1480.5" x2="338.1" y2="1513.5" stroke="#000" stroke-width="1.5"/>
<line x1="334.4" y1="1480.5" x2="341.8" y2="1480.5" stroke="#000" stroke-width="1.3"/>
<rect x="327.6" y="1512.5" width="21.1" height="129.3" fill="#000"/>
<text transform="translate(340.0 1470.1) scale(1.04 0.85)" y="13.1" font-size="26" font-weight="bold" text-anchor="middle">*</text>
<line x1="394.0" y1="1484.0" x2="394.0" y2="1533.5" stroke="#000" stroke-width="1.5"/>
<line x1="390.3" y1="1484.0" x2="397.7" y2="1484.0" stroke="#000" stroke-width="1.3"/>
<rect x="383.6" y="1532.5" width="20.8" height="109.3" fill="#000"/>
<text transform="translate(171.8 1668.1) scale(0.845 1)" font-size="17.5" font-weight="normal" text-anchor="middle">0</text>
<text transform="translate(227.8 1668.1) scale(0.845 1)" font-size="17.5" font-weight="normal" text-anchor="middle">1</text>
<text transform="translate(283.0 1668.1) scale(0.845 1)" font-size="17.5" font-weight="normal" text-anchor="middle">3</text>
<text transform="translate(338.0 1668.1) scale(0.845 1)" font-size="17.5" font-weight="normal" text-anchor="middle">30</text>
<text transform="translate(394.3 1668.1) scale(0.845 1)" font-size="17.5" font-weight="normal" text-anchor="middle">300</text>
<text x="669.0" y="1444.3" font-size="24" font-weight="bold" text-anchor="middle">TGFβ1</text>
<line x1="529.4" y1="1641.8" x2="809.6" y2="1641.8" stroke="#000" stroke-width="1.7"/>
<line x1="530.0" y1="1641.8" x2="530.0" y2="1647.6" stroke="#111" stroke-width="1.4"/>
<line x1="586.0" y1="1641.8" x2="586.0" y2="1647.6" stroke="#111" stroke-width="1.4"/>
<line x1="641.5" y1="1641.8" x2="641.5" y2="1647.6" stroke="#111" stroke-width="1.4"/>
<line x1="697.5" y1="1641.8" x2="697.5" y2="1647.6" stroke="#111" stroke-width="1.4"/>
<line x1="753.0" y1="1641.8" x2="753.0" y2="1647.6" stroke="#111" stroke-width="1.4"/>
<line x1="809.0" y1="1641.8" x2="809.0" y2="1647.6" stroke="#111" stroke-width="1.4"/>
<text transform="translate(512.5 1434.3) scale(0.88 1)" font-size="16.8" font-weight="bold" text-anchor="end">250</text>
<text transform="translate(512.5 1477.3) scale(0.88 1)" font-size="16.8" font-weight="bold" text-anchor="end">200</text>
<text transform="translate(512.5 1520.3) scale(0.88 1)" font-size="16.8" font-weight="bold" text-anchor="end">150</text>
<text transform="translate(512.5 1562.8) scale(0.88 1)" font-size="16.8" font-weight="bold" text-anchor="end">100</text>
<text transform="translate(512.5 1606.3) scale(0.88 1)" font-size="16.8" font-weight="bold" text-anchor="end">50</text>
<text transform="translate(512.5 1649.8) scale(0.88 1)" font-size="16.8" font-weight="bold" text-anchor="end">0</text>
<rect x="547.0" y="1557.5" width="22.5" height="84.3" fill="#000"/>
<line x1="614.0" y1="1477.0" x2="614.0" y2="1524.0" stroke="#000" stroke-width="1.5"/>
<line x1="610.3" y1="1477.0" x2="617.7" y2="1477.0" stroke="#000" stroke-width="1.3"/>
<rect x="603.0" y="1523.0" width="22.0" height="118.8" fill="#000"/>
<line x1="669.8" y1="1534.0" x2="669.8" y2="1557.5" stroke="#000" stroke-width="1.5"/>
<line x1="666.0" y1="1534.0" x2="673.5" y2="1534.0" stroke="#000" stroke-width="1.3"/>
<rect x="658.5" y="1556.5" width="22.5" height="85.3" fill="#000"/>
<line x1="725.2" y1="1521.0" x2="725.2" y2="1537.0" stroke="#000" stroke-width="1.5"/>
<line x1="721.5" y1="1521.0" x2="729.0" y2="1521.0" stroke="#000" stroke-width="1.3"/>
<rect x="714.0" y="1536.0" width="22.5" height="105.8" fill="#000"/>
<text transform="translate(725.5 1506.1) scale(1.04 0.85)" y="13.1" font-size="26" font-weight="bold" text-anchor="middle">*</text>
<line x1="781.0" y1="1478.5" x2="781.0" y2="1508.5" stroke="#000" stroke-width="1.5"/>
<line x1="777.3" y1="1478.5" x2="784.7" y2="1478.5" stroke="#000" stroke-width="1.3"/>
<rect x="770.0" y="1507.5" width="22.0" height="134.3" fill="#000"/>
<text transform="translate(781.0 1466.1) scale(1.04 0.85)" y="13.1" font-size="26" font-weight="bold" text-anchor="middle">*</text>
<text transform="translate(558.0 1668.1) scale(0.845 1)" font-size="17.5" font-weight="normal" text-anchor="middle">0</text>
<text transform="translate(614.0 1668.1) scale(0.845 1)" font-size="17.5" font-weight="normal" text-anchor="middle">1</text>
<text transform="translate(669.5 1668.1) scale(0.845 1)" font-size="17.5" font-weight="normal" text-anchor="middle">3</text>
<text transform="translate(725.0 1668.1) scale(0.845 1)" font-size="17.5" font-weight="normal" text-anchor="middle">30</text>
<text transform="translate(781.0 1668.1) scale(0.845 1)" font-size="17.5" font-weight="normal" text-anchor="middle">300</text>
<text x="463.5" y="1711.1" font-size="25" font-weight="bold" text-anchor="middle">Frequency (Hz)</text>
<text transform="translate(879.86 1168.2) scale(0.757 1)" font-size="50.1" font-weight="bold" stroke="#000" stroke-width="0.5">F</text>
<text x="1097.4" y="1240.1" font-size="24.6" font-weight="bold" text-anchor="end">80</text>
<text x="1097.4" y="1285.6" font-size="24.6" font-weight="bold" text-anchor="end">70</text>
<text x="1097.4" y="1331.1" font-size="24.6" font-weight="bold" text-anchor="end">60</text>
<text x="1097.4" y="1376.6" font-size="24.6" font-weight="bold" text-anchor="end">50</text>
<text x="1097.4" y="1421.6" font-size="24.6" font-weight="bold" text-anchor="end">40</text>
<text x="1097.4" y="1467.6" font-size="24.6" font-weight="bold" text-anchor="end">30</text>
<text x="1097.4" y="1512.6" font-size="24.6" font-weight="bold" text-anchor="end">20</text>
<text x="1097.4" y="1558.1" font-size="24.6" font-weight="bold" text-anchor="end">10</text>
<text x="1097.4" y="1603.6" font-size="24.6" font-weight="bold" text-anchor="end">0</text>
<text transform="translate(1047.3 1411.5) rotate(-90)" font-size="25" font-weight="bold" text-anchor="middle" textLength="318.5" lengthAdjust="spacing">Cell Cycle Progression (%)</text>
<rect x="1150.0" y="1319.2" width="28.7" height="275.8" fill="#000"/>
<g transform="translate(1178.7 1320.1)">
<rect x="0.7" y="0.7" width="26.7" height="274.2" fill="url(#hatch)" stroke="#000" stroke-width="1.4"/>
</g>
<g transform="translate(1206.8 1319.2)">
<rect x="0.7" y="0.7" width="27.5" height="275.1" fill="url(#check)" stroke="#000" stroke-width="1.4"/>
</g>
<line x1="1164.3" y1="1292.9" x2="1164.3" y2="1320.2" stroke="#000" stroke-width="2"/>
<line x1="1160.8" y1="1292.9" x2="1167.8" y2="1292.9" stroke="#000" stroke-width="1.8"/>
<line x1="1192.8" y1="1316.7" x2="1192.8" y2="1326.0" stroke="#000" stroke-width="2"/>
<line x1="1189.2" y1="1316.7" x2="1196.2" y2="1316.7" stroke="#000" stroke-width="1.8"/>
<line x1="1189.2" y1="1326.0" x2="1196.2" y2="1326.0" stroke="#000" stroke-width="1.8"/>
<line x1="1221.2" y1="1302.3" x2="1221.2" y2="1336.9" stroke="#5a5a5a" stroke-width="1.9"/>
<line x1="1217.8" y1="1302.3" x2="1224.8" y2="1302.3" stroke="#5a5a5a" stroke-width="1.7"/>
<line x1="1217.8" y1="1336.9" x2="1224.8" y2="1336.9" stroke="#5a5a5a" stroke-width="1.7"/>
<rect x="1297.9" y="1573.2" width="29.9" height="21.8" fill="#000"/>
<g transform="translate(1327.8 1574.4)">
<rect x="0.7" y="0.7" width="27.3" height="19.9" fill="url(#hatch)" stroke="#000" stroke-width="1.4"/>
</g>
<g transform="translate(1356.5 1575.5)">
<rect x="0.7" y="0.7" width="27.1" height="18.8" fill="url(#check)" stroke="#000" stroke-width="1.4"/>
</g>
<line x1="1312.8" y1="1571.0" x2="1312.8" y2="1574.2" stroke="#000" stroke-width="2"/>
<line x1="1309.3" y1="1571.0" x2="1316.3" y2="1571.0" stroke="#000" stroke-width="1.8"/>
<line x1="1342.2" y1="1570.0" x2="1342.2" y2="1579.2" stroke="#000" stroke-width="2"/>
<line x1="1338.7" y1="1570.0" x2="1345.7" y2="1570.0" stroke="#000" stroke-width="1.8"/>
<line x1="1338.7" y1="1579.2" x2="1345.7" y2="1579.2" stroke="#000" stroke-width="1.8"/>
<line x1="1370.8" y1="1574.3" x2="1370.8" y2="1576.5" stroke="#5a5a5a" stroke-width="1.9"/>
<line x1="1367.2" y1="1574.3" x2="1374.2" y2="1574.3" stroke="#5a5a5a" stroke-width="1.7"/>
<line x1="1367.2" y1="1576.5" x2="1374.2" y2="1576.5" stroke="#5a5a5a" stroke-width="1.7"/>
<rect x="1446.0" y="1572.0" width="30.0" height="23.0" fill="#000"/>
<g transform="translate(1476.0 1567.0)">
<rect x="0.7" y="0.7" width="27.4" height="27.3" fill="url(#hatch)" stroke="#000" stroke-width="1.4"/>
</g>
<g transform="translate(1504.8 1575.5)">
<rect x="0.7" y="0.7" width="27.3" height="18.8" fill="url(#check)" stroke="#000" stroke-width="1.4"/>
</g>
<line x1="1461.0" y1="1568.9" x2="1461.0" y2="1573.0" stroke="#000" stroke-width="2"/>
<line x1="1457.5" y1="1568.9" x2="1464.5" y2="1568.9" stroke="#000" stroke-width="1.8"/>
<line x1="1490.4" y1="1562.9" x2="1490.4" y2="1571.0" stroke="#000" stroke-width="2"/>
<line x1="1486.9" y1="1562.9" x2="1493.9" y2="1562.9" stroke="#000" stroke-width="1.8"/>
<line x1="1486.9" y1="1571.0" x2="1493.9" y2="1571.0" stroke="#000" stroke-width="1.8"/>
<line x1="1519.2" y1="1570.2" x2="1519.2" y2="1580.3" stroke="#5a5a5a" stroke-width="1.9"/>
<line x1="1515.7" y1="1570.2" x2="1522.7" y2="1570.2" stroke="#5a5a5a" stroke-width="1.7"/>
<line x1="1515.7" y1="1580.3" x2="1522.7" y2="1580.3" stroke="#5a5a5a" stroke-width="1.7"/>
<line x1="1119.0" y1="1595.0" x2="1564.0" y2="1595.0" stroke="#000" stroke-width="2"/>
<text x="1191.5" y="1634.2" font-size="24.6" font-weight="bold" text-anchor="middle">G0/G1</text>
<text x="1340.0" y="1634.2" font-size="24.6" font-weight="bold" text-anchor="middle">S</text>
<text x="1490.0" y="1634.2" font-size="24.6" font-weight="bold" text-anchor="middle">G2/M</text>
<rect x="1429.4" y="1315.9" width="12.4" height="11.8" fill="#000"/>
<g transform="translate(1430.4 1344.3)"><rect x="0.65" y="0.65" width="10.4" height="10" fill="#fff" stroke="#000" stroke-width="1.6"/><path d="M0.6,0.6 L11,10.6" stroke="#000" stroke-width="2.1"/></g>
<g transform="translate(1430.4 1371.4)"><rect x="0.65" y="0.65" width="10.4" height="10.2" fill="url(#check)" stroke="#000" stroke-width="1.6"/></g>
<text x="1446" y="1328" font-size="19.5" font-weight="bold" textLength="63" lengthAdjust="spacingAndGlyphs">control</text>
<text x="1446" y="1355.6" font-size="19.5" font-weight="bold" textLength="35.8" lengthAdjust="spacingAndGlyphs">1Hz</text>
<text x="1446" y="1382.8" font-size="19.5" font-weight="bold" textLength="59.5" lengthAdjust="spacingAndGlyphs">300Hz</text>
</svg></body></html>
